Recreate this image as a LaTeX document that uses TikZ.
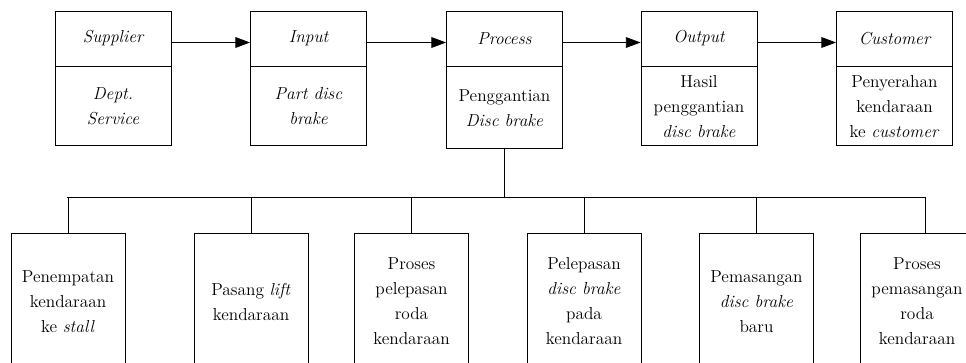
\documentclass[tikz,border=0pt]{standalone}
\usetikzlibrary{positioning,arrows.meta}

\tikzset{
	hdr/.style={draw, line width=0.6pt, minimum width=87pt, minimum height=41.25pt, inner sep=0pt, font=\fontsize{13}{18.75}\selectfont\itshape},
	body/.style={draw, line width=0.6pt, minimum width=87pt, minimum height=59.25pt, inner sep=0pt, align=center, font=\fontsize{13}{18.75}\selectfont},
	task/.style={draw, line width=0.6pt, minimum width=85.5pt, minimum height=102.75pt, inner sep=0pt, align=center, font=\fontsize{13}{18.75}\selectfont},
	flow/.style={line width=0.6pt, -{Triangle[length=11pt, width=8pt]}}
}

\begin{document}
\begin{tikzpicture}[x=0.75pt, y=-0.75pt, line width=0.6pt]

	\useasboundingbox (0,0) rectangle (966,363);

	%top row
	\node[hdr] (sup) at (113,38.5) {Supplier};
	\node[body, below=0pt of sup] (supb) {\textit{Dept.}\\\textit{Service}};

	\node[hdr] (inp) at (308.5,38.5) {Input};
	\node[body, below=0pt of inp] (inpb) {\textit{Part disc}\\\textit{brake}};

	\node[hdr] (prc) at (504.5,38.5) {Process};
	\node[body, below=0pt of prc, minimum height=61.5pt] (prcb) {Penggantian\\\textit{Disc brake}};

	\node[hdr] (out) at (699,38.5) {Output};
	\node[body, below=0pt of out] (outb) {Hasil\\penggantian\\\textit{disc brake}};

	\node[hdr] (cus) at (894.5,38.5) {Customer};
	\node[body, below=0pt of cus] (cusb) {Penyerahan\\kendaraan\\ke \textit{customer}};

	\foreach \a/\b in {sup/inp,inp/prc,prc/out,out/cus}
		\draw[flow] ([yshift=-3pt]\a.east) -- ([yshift=-3pt]\b.west);

	%bottom row
	\node[task] (t1) at (68,301.5) {Penempatan\\kendaraan\\ke \textit{stall}};
	\node[task] (t2) at (251,301.5) {Pasang \textit{lift}\\kendaraan};
	\node[task] (t3) at (411.5,301.5) {Proses\\pelepasan\\roda\\kendaraan};
	\node[task] (t4) at (584,301.5) {Pelepasan\\\textit{disc brake}\\pada\\kendaraan};
	\node[task] (t5) at (756.5,301.5) {Pemasangan\\\textit{disc brake}\\baru};
	\node[task] (t6) at (917,301.5) {Proses\\pemasangan\\roda\\kendaraan};

	%tree
	\coordinate (bl) at (67,197);
	\coordinate (br) at (925,197);
	\draw (prcb.south) -- (prcb.south |- bl);
	\draw (bl) -- (br);
	\foreach \t in {1,...,5}
		\draw (t\t.north) -- (t\t.north |- bl);
	\draw (br) -- (br |- t6.north);

\end{tikzpicture}
\end{document}
